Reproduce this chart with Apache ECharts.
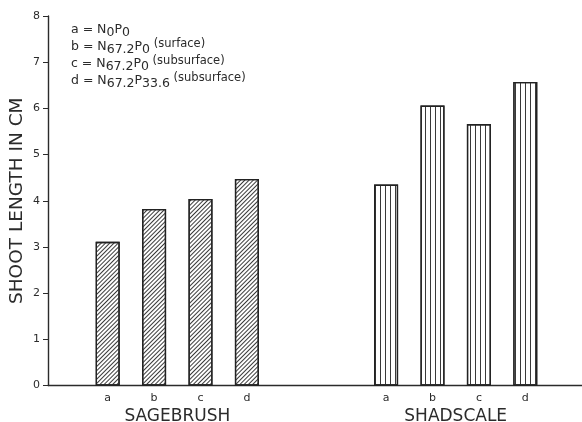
<!DOCTYPE html>
<html>
<head>
<meta charset="utf-8">
<script src="https://cdn.jsdelivr.net/npm/echarts@6/dist/echarts.min.js"></script>
<style>
html,body{margin:0;padding:0;background:#fff;}
#c{width:582px;height:422px;}
</style>
</head>
<body>
<div id="c"></div>
<script>
// ---- data ----
const treatments = ['a', 'b', 'c', 'd'];
const groups = ['SAGEBRUSH', 'SHADSCALE'];
const sagebrush = [3.11, 3.82, 4.04, 4.47];
const shadscale = [4.35, 6.06, 5.66, 6.57];
const yTicks = [0, 1, 2, 3, 4, 5, 6, 7, 8];
const keyNSub = ['0', '67.2', '67.2', '67.2'];
const keyPSub = ['0', '0', '0', '33.6'];
const keyNote = ['', '(surface)', '(subsurface)', '(subsurface)'];
const yTitle = 'SHOOT LENGTH IN CM';

// ---- build ----
const gapSlots = 2;
const categories = treatments.concat(new Array(gapSlots).fill(''), treatments);
const nSlots = categories.length;
const sageData = sagebrush.concat(new Array(nSlots - sagebrush.length).fill(null));
const shadData = new Array(nSlots - shadscale.length).fill(null).concat(shadscale);
// half-slot axis for group titles (centred between b and c of each group)
const half = new Array(nSlots * 2 + 1).fill('');
const gStart = [0, treatments.length + gapSlots];
groups.forEach((g, i) => { half[2 * gStart[i] + treatments.length] = g; });

const keyLines = treatments.map((t, i) =>
  '{m|' + t + ' = N}{s|' + keyNSub[i] + '}{m|P}{s|' + keyPSub[i] + '}' +
  (keyNote[i] ? '{p| ' + keyNote[i] + '}' : '')
).join('\n');

const ink = '#2b2b2b';
const font = 'DejaVu Sans';

const chart = echarts.init(document.getElementById('c'), null, {renderer: 'canvas'});
chart.setOption({
  animation: false,
  backgroundColor: '#fff',
  title: {
    left: 71, top: 21, padding: 0,
    text: keyLines,
    textStyle: {
      fontFamily: font, fontWeight: 'normal', fontSize: 12,
      rich: {
        m: {fontSize: 12.5, fontWeight: 'normal', color: ink, fontFamily: font, lineHeight: 17},
        s: {fontSize: 12.5, fontWeight: 'normal', color: ink, fontFamily: font, lineHeight: 10, padding: [7, 0, 0, 0]},
        p: {fontSize: 11.5, fontWeight: 'normal', color: ink, fontFamily: font, lineHeight: 13, padding: [0, 0, 4, 0]}
      }
    }
  },
  grid: [
    {left: 48, right: 0, top: 16, bottom: 36.5, outerBoundsMode: 'none', containLabel: false},
    {left: 84.5, right: 33.5, top: 16, bottom: 36.5, outerBoundsMode: 'none', containLabel: false}
  ],
  xAxis: [
    {gridIndex: 0, type: 'category', data: [''],
     axisLine: {show: true, lineStyle: {color: ink, width: 1.4}},
     axisTick: {show: false}, axisLabel: {show: false}, splitLine: {show: false}},
    {gridIndex: 1, type: 'category', data: categories,
     axisLine: {show: false}, axisTick: {show: false},
     axisLabel: {interval: 0, color: ink, fontFamily: font, fontSize: 11, margin: 7}},
    {gridIndex: 1, type: 'category', data: half, boundaryGap: false, position: 'bottom',
     axisLine: {show: false}, axisTick: {show: false}, splitLine: {show: false},
     axisLabel: {interval: 0, color: ink, fontFamily: font, fontSize: 17, margin: 23}}
  ],
  yAxis: [
    {gridIndex: 0, type: 'value', min: yTicks[0], max: yTicks[yTicks.length - 1], interval: 1,
     name: yTitle, nameLocation: 'middle', nameGap: 21, nameRotate: 90, nameMoveOverlap: false,
     nameTextStyle: {color: ink, fontFamily: font, fontSize: 18.5},
     axisLine: {show: true, lineStyle: {color: ink, width: 1.4}},
     axisTick: {show: true, length: 5, lineStyle: {color: ink}},
     axisLabel: {color: ink, fontFamily: font, fontSize: 11, margin: 8},
     splitLine: {show: false}},
    {gridIndex: 1, type: 'value', min: yTicks[0], max: yTicks[yTicks.length - 1], interval: 1,
     show: false, splitLine: {show: false}}
  ],
  series: [
    {type: 'bar', name: groups[0], xAxisIndex: 1, yAxisIndex: 1, data: sageData,
     barWidth: 24, barGap: '-100%',
     itemStyle: {color: '#ffffff', borderColor: '#222', borderWidth: 1.3,
       decal: {symbol: 'rect', symbolSize: 1, color: '#3a3a3a',
               dashArrayX: [1, 2], dashArrayY: [4, 0], rotation: Math.PI / 4}}},
    {type: 'bar', name: groups[1], xAxisIndex: 1, yAxisIndex: 1, data: shadData,
     barWidth: 24, barGap: '-100%',
     itemStyle: {color: '#ffffff', borderColor: '#222', borderWidth: 1.3,
       decal: {symbol: 'rect', symbolSize: 1, color: '#3a3a3a',
               dashArrayX: [1, 3.4], dashArrayY: [4, 0], rotation: 0}}}
  ]
});
</script>
</body>
</html>
